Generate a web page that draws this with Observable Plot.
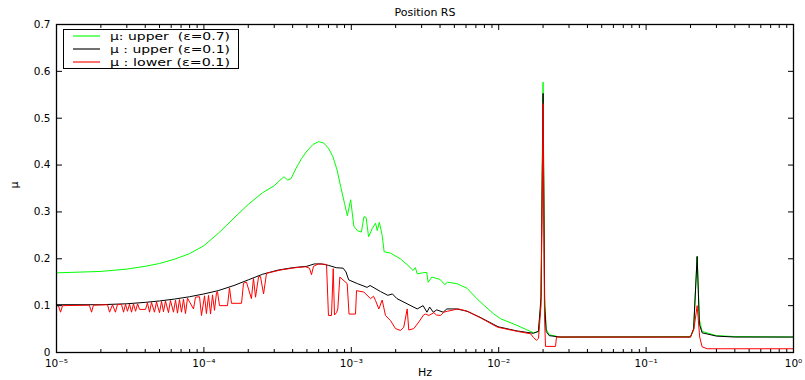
<!DOCTYPE html>
<html>
<head>
<meta charset="utf-8">
<script src="https://cdn.jsdelivr.net/npm/d3@7"></script>
<script src="https://cdn.jsdelivr.net/npm/@observablehq/plot@0.6"></script>
<style>
  body { margin: 0; background: #fff; }
  #wrap { position: relative; width: 805px; height: 380px; font-family: "DejaVu Sans", sans-serif; }
  #legend { position: absolute; left: 63px; top: 29px; }
</style>
</head>
<body>
<div id="wrap"></div>
<script>
// ---- data (frequency in Hz, mu) ----
const upperEps07 = [
  [1e-5,0.170],[2e-5,0.173],[3e-5,0.178],[4e-5,0.184],[5e-5,0.190],[6.3e-5,0.199],[8e-5,0.211],
  [1e-4,0.228],[1.25e-4,0.254],[1.6e-4,0.287],[2e-4,0.316],[2.5e-4,0.341],[3e-4,0.356],[3.4e-4,0.372],
  [3.5e-4,0.375],[3.7e-4,0.368],[3.9e-4,0.371],[4.2e-4,0.392],[4.6e-4,0.414],[5e-4,0.430],[5.5e-4,0.444],
  [6e-4,0.450],[6.5e-4,0.447],[7e-4,0.436],[7.5e-4,0.418],[8e-4,0.390],[8.5e-4,0.352],[9e-4,0.318],
  [9.4e-4,0.292],[9.9e-4,0.326],[1.04e-3,0.270],[1.1e-3,0.260],[1.17e-3,0.257],[1.22e-3,0.290],[1.26e-3,0.288],
  [1.31e-3,0.247],[1.39e-3,0.265],[1.46e-3,0.276],[1.5e-3,0.260],[1.55e-3,0.278],[1.62e-3,0.250],[1.67e-3,0.215],
  [1.85e-3,0.212],[2.15e-3,0.200],[2.5e-3,0.182],[2.62e-3,0.175],[2.72e-3,0.181],[2.8e-3,0.168],[3.05e-3,0.170],
  [3.25e-3,0.171],[3.32e-3,0.150],[3.52e-3,0.161],[4e-3,0.156],[4.3e-3,0.145],[4.5e-3,0.150],[5.2e-3,0.147],
  [6.1e-3,0.137],[7.1e-3,0.115],[8e-3,0.100],[9.2e-3,0.083],[1.03e-2,0.072],[1.33e-2,0.058],[1.72e-2,0.042],
  [1.86e-2,0.045],[1.93e-2,0.100],[2e-2,0.577],[2.05e-2,0.120],[2.1e-2,0.050],[2.2e-2,0.038],[2.6e-2,0.033],
  [0.2,0.034],[0.21,0.050],[0.222,0.205],[0.23,0.070],[0.24,0.045],[0.3,0.036],[0.4,0.034],[1,0.033]
];
const upperEps01 = [
  [1e-5,0.102],[2e-5,0.102],[3e-5,0.104],[4e-5,0.107],[5e-5,0.110],[6.3e-5,0.114],[8e-5,0.119],
  [1e-4,0.125],[1.25e-4,0.132],[1.6e-4,0.143],[2e-4,0.155],[2.5e-4,0.167],[3.2e-4,0.176],[4e-4,0.181],
  [5e-4,0.184],[5.6e-4,0.189],[6.3e-4,0.189],[7e-4,0.186],[7.9e-4,0.181],[8.8e-4,0.180],[9.2e-4,0.172],
  [9.6e-4,0.155],[1.1e-3,0.147],[1.28e-3,0.139],[1.34e-3,0.143],[1.58e-3,0.130],[1.77e-3,0.122],[1.9e-3,0.125],
  [2.04e-3,0.115],[2.8e-3,0.093],[3.07e-3,0.100],[3.26e-3,0.086],[3.4e-3,0.097],[3.6e-3,0.086],[3.8e-3,0.091],
  [4.2e-3,0.086],[4.45e-3,0.093],[5.2e-3,0.093],[6.1e-3,0.088],[7.6e-3,0.074],[9.9e-3,0.055],[1.33e-2,0.046],
  [1.72e-2,0.041],[1.86e-2,0.045],[1.94e-2,0.120],[2e-2,0.553],[2.05e-2,0.100],[2.1e-2,0.045],[2.2e-2,0.036],
  [2.6e-2,0.033],[0.2,0.033],[0.21,0.050],[0.222,0.205],[0.23,0.060],[0.24,0.042],[0.3,0.035],[0.4,0.033],[1,0.033]
];
const lowerEps01 = [
  [1e-5,0.100],[1.03e-5,0.100],[1.065e-5,0.086],[1.10e-5,0.100],
  [1.67e-5,0.101],[1.73e-5,0.086],[1.78e-5,0.101],
  [2.22e-5,0.102],[2.29e-5,0.086],[2.40e-5,0.102],[2.51e-5,0.086],[2.59e-5,0.102],
  [2.76e-5,0.103],[2.85e-5,0.086],[2.94e-5,0.103],[3.03e-5,0.088],[3.13e-5,0.103],[3.23e-5,0.086],[3.33e-5,0.104],[3.44e-5,0.088],[3.55e-5,0.104],
  [3.66e-5,0.092],[4.02e-5,0.092],[4.14e-5,0.106],
  [4.28e-5,0.086],[4.41e-5,0.107],[4.62e-5,0.086],[4.77e-5,0.108],[5.00e-5,0.085],[5.16e-5,0.109],[5.32e-5,0.087],[5.49e-5,0.110],
  [5.75e-5,0.085],[5.93e-5,0.111],[6.22e-5,0.086],[6.42e-5,0.112],[6.62e-5,0.084],[6.83e-5,0.113],[7.05e-5,0.086],[7.27e-5,0.114],
  [7.50e-5,0.083],[7.74e-5,0.116],[8.50e-5,0.093],[8.77e-5,0.118],
  [9.34e-5,0.119],[9.63e-5,0.079],[1.01e-4,0.121],[1.04e-4,0.083],[1.075e-4,0.122],[1.109e-4,0.082],[1.144e-4,0.123],[1.18e-4,0.090],[1.218e-4,0.128],
  [1.237e-4,0.130],[1.276e-4,0.100],[1.446e-4,0.100],[1.492e-4,0.138],[1.539e-4,0.105],[1.80e-4,0.105],[1.857e-4,0.148],[1.945e-4,0.150],
  [2.10e-4,0.115],[2.17e-4,0.158],[2.24e-4,0.118],[2.35e-4,0.162],[2.42e-4,0.162],[2.54e-4,0.125],[2.66e-4,0.169],
  [3.31e-4,0.176],[4.18e-4,0.181],[4.89e-4,0.183],[5.20e-4,0.180],[5.37e-4,0.166],[5.54e-4,0.184],[5.99e-4,0.189],[6.79e-4,0.188],
  [7.00e-4,0.079],[7.34e-4,0.079],[7.54e-4,0.179],[7.69e-4,0.080],[7.94e-4,0.085],[8.10e-4,0.093],[8.36e-4,0.161],[9.38e-4,0.147],[9.65e-4,0.082],
  [1.068e-3,0.082],[1.085e-3,0.132],[1.216e-3,0.129],[1.35e-3,0.115],[1.415e-3,0.120],[1.46e-3,0.111],[1.537e-3,0.093],[1.62e-3,0.112],
  [1.706e-3,0.079],[1.845e-3,0.068],[1.995e-3,0.051],[2.157e-3,0.047],[2.27e-3,0.054],[2.394e-3,0.093],[2.455e-3,0.048],[2.655e-3,0.051],
  [2.87e-3,0.065],[3.09e-3,0.080],[3.19e-3,0.082],[3.36e-3,0.079],[3.63e-3,0.085],[3.78e-3,0.080],[4.03e-3,0.079],[4.24e-3,0.086],
  [4.49e-3,0.088],[4.96e-3,0.091],[5.34e-3,0.093],[6.14e-3,0.088],[7.52e-3,0.074],[9.81e-3,0.054],
  [1.34e-2,0.045],[1.644e-2,0.040],[1.722e-2,0.032],[1.805e-2,0.026],[1.862e-2,0.030],[1.936e-2,0.100],[2e-2,0.531],[2.045e-2,0.080],
  [2.077e-2,0.013],[2.43e-2,0.013],[2.466e-2,0.033],
  [0.2,0.033],[0.211,0.050],[0.222,0.100],[0.231,0.033],[0.240,0.012],[0.260,0.008],[1,0.008]
];

const seriesNames  = ["\u03bc: upper  (\u03b5=0.7)", "\u03bc : upper (\u03b5=0.1)", "\u03bc : lower (\u03b5=0.1)"];
const seriesColors = ["#00ff00", "#000000", "#ff0000"];

const xTicks = [1e-5, 1e-4, 1e-3, 1e-2, 1e-1, 1];
const xTickLabels = ["10\u207b\u2075", "10\u207b\u2074", "10\u207b\u00b3", "10\u207b\u00b2", "10\u207b\u00b9", "10\u2070"];
const yTicks = [0, 0.1, 0.2, 0.3, 0.4, 0.5, 0.6, 0.7];
const yTickLabels = ["0", "0.1", "0.2", "0.3", "0.4", "0.5", "0.6", "0.7"];
const titleText = "Position RS";
const xLabel = "Hz";
const yLabel = "\u03bc";

// minor log ticks (2..9 x each decade)
const xMinor = [];
for (const d of xTicks.slice(0, -1)) for (let k = 2; k <= 9; k++) xMinor.push(d * k);

const blank = () => "";
const plot = Plot.plot({
  width: 805, height: 380,
  marginLeft: 56, marginRight: 12, marginTop: 24, marginBottom: 28,
  style: { fontFamily: "DejaVu Sans, sans-serif", fontSize: "10px", background: "white", color: "black" },
  x: { type: "log", domain: [1e-5, 1], label: null },
  y: { domain: [0, 0.7], label: null },
  marks: [
    Plot.line(upperEps07, { x: d => d[0], y: d => d[1], stroke: seriesColors[0], strokeWidth: 1 }),
    Plot.line(upperEps01, { x: d => d[0], y: d => d[1], stroke: seriesColors[1], strokeWidth: 1 }),
    Plot.line(lowerEps01, { x: d => d[0], y: d => d[1], stroke: seriesColors[2], strokeWidth: 1 }),
    Plot.axisX({ anchor: "bottom", ticks: xTicks, tickSize: -5, tickPadding: 12, tickFormat: d => xTickLabels[xTicks.indexOf(d)], label: null, fontSize: 10.5 }),
    Plot.axisX({ anchor: "bottom", ticks: xMinor, tickSize: -3, tickFormat: blank, label: null }),
    Plot.axisX({ anchor: "top", ticks: xTicks, tickSize: -5, tickFormat: blank, label: null }),
    Plot.axisX({ anchor: "top", ticks: xMinor, tickSize: -3, tickFormat: blank, label: null }),
    Plot.axisY({ anchor: "left", ticks: yTicks, tickSize: -6, tickPadding: 12, tickFormat: d => yTickLabels[yTicks.indexOf(d)], label: null, fontSize: 10.5 }),
    Plot.axisY({ anchor: "right", ticks: yTicks, tickSize: -6, tickFormat: blank, label: null }),
    Plot.frame({ stroke: "black", strokeWidth: 1.3 }),
    Plot.text([titleText], { text: d => d, frameAnchor: "top", dy: -16, fontSize: 11 }),
    Plot.text([xLabel], { text: d => d, frameAnchor: "bottom", dy: 23, fontSize: 11 }),
    Plot.text([yLabel], { text: d => d, frameAnchor: "left", dx: -42, rotate: -90, fontSize: 11 })
  ]
});
const wrap = document.getElementById("wrap");
wrap.appendChild(plot);

// legend (box with a line sample and label per series)
const NS = "http://www.w3.org/2000/svg";
const lg = document.createElementNS(NS, "svg");
lg.setAttribute("id", "legend");
lg.setAttribute("width", "176");
lg.setAttribute("height", "40");
const box = document.createElementNS(NS, "rect");
box.setAttribute("x", "0.5"); box.setAttribute("y", "0.5");
box.setAttribute("width", "175"); box.setAttribute("height", "39");
box.setAttribute("fill", "white"); box.setAttribute("stroke", "black"); box.setAttribute("stroke-width", "1");
lg.appendChild(box);
seriesNames.forEach((name, i) => {
  const cy = 7 + i * 13;
  const ln = document.createElementNS(NS, "line");
  ln.setAttribute("x1", "10"); ln.setAttribute("x2", "37");
  ln.setAttribute("y1", cy); ln.setAttribute("y2", cy);
  ln.setAttribute("stroke", seriesColors[i]); ln.setAttribute("stroke-width", "1.6");
  ln.setAttribute("stroke-opacity", "0.7");
  lg.appendChild(ln);
  const tx = document.createElementNS(NS, "text");
  tx.setAttribute("x", "47"); tx.setAttribute("y", cy);
  tx.setAttribute("dy", "0.35em");
  tx.setAttribute("font-size", "11");
  tx.setAttribute("font-family", "DejaVu Sans, sans-serif");
  tx.setAttribute("textLength", "120");
  tx.setAttribute("lengthAdjust", "spacingAndGlyphs");
  tx.style.whiteSpace = "pre";
  tx.textContent = name;
  lg.appendChild(tx);
});
wrap.appendChild(lg);
</script>
</body>
</html>
